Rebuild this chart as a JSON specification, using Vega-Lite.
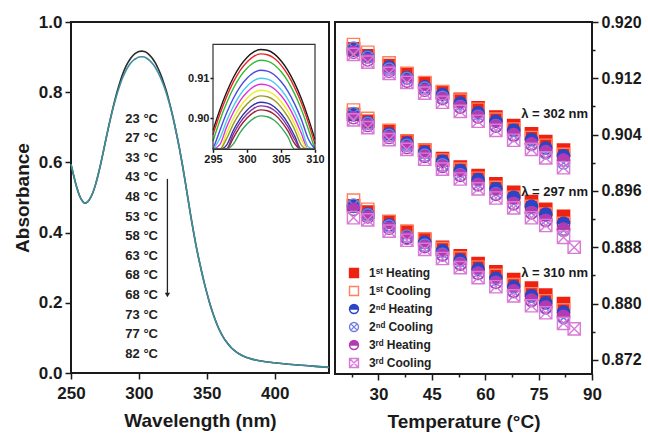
{
  "$schema": "https://vega.github.io/schema/vega-lite/v6.json",
  "padding": {"left": 12, "top": 12, "right": 2, "bottom": 2},
  "background": "white",
  "config": {
    "font": "Liberation Sans",
    "view": {"stroke": "#1a1a1a", "strokeWidth": 2},
    "axis": {"labelFont": "Liberation Sans", "labelFontWeight": "bold", "labelColor": "#1a1a1a", "titleFont": "Liberation Sans", "titleFontWeight": "bold", "titleColor": "#1a1a1a", "tickColor": "#1a1a1a", "tickWidth": 1.5, "domain": false, "grid": false, "labelFontSize": 17, "titleFontSize": 19, "labelPadding": 3, "labelOverlap": false, "labelFlush": false},
    "legend": {"labelFont": "Liberation Sans", "labelFontSize": 12, "labelFontWeight": "bold", "labelColor": "#222", "symbolSize": 80, "rowPadding": 2, "padding": 0, "labelOffset": 9, "symbolStrokeWidth": 1.4}
  },
  "datasets": {
    "spectrum": [
      {"w":250,"a1":0.595,"a2":0.595},{"w":252,"a1":0.562,"a2":0.562},{"w":254,"a1":0.532,"a2":0.532},{"w":256,"a1":0.508,"a2":0.508},
      {"w":258,"a1":0.492,"a2":0.492},{"w":260,"a1":0.484,"a2":0.484},{"w":262,"a1":0.487,"a2":0.487},{"w":264,"a1":0.497,"a2":0.497},
      {"w":266,"a1":0.513,"a2":0.513},{"w":268,"a1":0.536,"a2":0.536},{"w":270,"a1":0.565,"a2":0.565},{"w":272,"a1":0.598,"a2":0.598},
      {"w":274,"a1":0.634,"a2":0.634},{"w":276,"a1":0.671,"a2":0.671},{"w":278,"a1":0.707,"a2":0.707},{"w":280,"a1":0.741,"a2":0.739},
      {"w":282,"a1":0.773,"a2":0.769},{"w":284,"a1":0.802,"a2":0.796},{"w":286,"a1":0.828,"a2":0.820},{"w":288,"a1":0.851,"a2":0.841},
      {"w":290,"a1":0.870,"a2":0.858},{"w":292,"a1":0.885,"a2":0.872},{"w":294,"a1":0.897,"a2":0.883},{"w":296,"a1":0.906,"a2":0.891},
      {"w":298,"a1":0.912,"a2":0.896},{"w":300,"a1":0.916,"a2":0.900},{"w":302,"a1":0.917,"a2":0.901},{"w":304,"a1":0.916,"a2":0.900},
      {"w":306,"a1":0.912,"a2":0.896},{"w":308,"a1":0.905,"a2":0.890},{"w":310,"a1":0.896,"a2":0.882},{"w":312,"a1":0.884,"a2":0.871},
      {"w":314,"a1":0.869,"a2":0.857},{"w":316,"a1":0.851,"a2":0.841},{"w":318,"a1":0.830,"a2":0.822},{"w":320,"a1":0.806,"a2":0.800},
      {"w":322,"a1":0.778,"a2":0.774},{"w":324,"a1":0.747,"a2":0.745},{"w":326,"a1":0.713,"a2":0.713},{"w":328,"a1":0.676,"a2":0.676},
      {"w":330,"a1":0.637,"a2":0.637},{"w":332,"a1":0.594,"a2":0.594},{"w":334,"a1":0.548,"a2":0.548},{"w":336,"a1":0.500,"a2":0.500},
      {"w":338,"a1":0.452,"a2":0.452},{"w":340,"a1":0.407,"a2":0.407},{"w":342,"a1":0.365,"a2":0.365},{"w":344,"a1":0.327,"a2":0.327},
      {"w":346,"a1":0.292,"a2":0.292},{"w":348,"a1":0.259,"a2":0.259},{"w":350,"a1":0.229,"a2":0.229},{"w":352,"a1":0.201,"a2":0.201},
      {"w":354,"a1":0.176,"a2":0.176},{"w":356,"a1":0.154,"a2":0.154},{"w":358,"a1":0.134,"a2":0.134},{"w":360,"a1":0.117,"a2":0.117},
      {"w":362,"a1":0.103,"a2":0.103},{"w":364,"a1":0.091,"a2":0.091},{"w":366,"a1":0.081,"a2":0.081},{"w":368,"a1":0.072,"a2":0.072},
      {"w":370,"a1":0.065,"a2":0.065},{"w":374,"a1":0.054,"a2":0.054},{"w":378,"a1":0.046,"a2":0.046},{"w":382,"a1":0.041,"a2":0.041},
      {"w":386,"a1":0.037,"a2":0.037},{"w":390,"a1":0.034,"a2":0.034},{"w":400,"a1":0.029,"a2":0.029},{"w":410,"a1":0.025,"a2":0.025},
      {"w":420,"a1":0.022,"a2":0.022},{"w":430,"a1":0.019,"a2":0.019},{"w":440,"a1":0.016,"a2":0.016}
    ],
    "inset": [
      {"x":295,"k1":0.8970,"k2":0.8959,"k3":0.8943,"k4":0.8918,"k5":0.8898,"k6":0.8883,"k7":0.8868,"k8":0.8854,"k9":0.8838,"k10":0.8829,"k11":0.8819,"k12":0.8804},
      {"x":296,"k1":0.9021,"k2":0.9010,"k3":0.8994,"k4":0.8969,"k5":0.8949,"k6":0.8934,"k7":0.8919,"k8":0.8905,"k9":0.8889,"k10":0.8880,"k11":0.8870,"k12":0.8855},
      {"x":297,"k1":0.9065,"k2":0.9054,"k3":0.9038,"k4":0.9013,"k5":0.8993,"k6":0.8978,"k7":0.8963,"k8":0.8949,"k9":0.8933,"k10":0.8924,"k11":0.8914,"k12":0.8899},
      {"x":298,"k1":0.9102,"k2":0.9091,"k3":0.9075,"k4":0.9050,"k5":0.9030,"k6":0.9015,"k7":0.9000,"k8":0.8986,"k9":0.8970,"k10":0.8961,"k11":0.8951,"k12":0.8936},
      {"x":299,"k1":0.9131,"k2":0.9120,"k3":0.9104,"k4":0.9079,"k5":0.9059,"k6":0.9044,"k7":0.9029,"k8":0.9015,"k9":0.8999,"k10":0.8990,"k11":0.8980,"k12":0.8965},
      {"x":300,"k1":0.9152,"k2":0.9141,"k3":0.9125,"k4":0.9100,"k5":0.9080,"k6":0.9065,"k7":0.9050,"k8":0.9036,"k9":0.9020,"k10":0.9011,"k11":0.9001,"k12":0.8986},
      {"x":301,"k1":0.9166,"k2":0.9155,"k3":0.9139,"k4":0.9114,"k5":0.9094,"k6":0.9079,"k7":0.9064,"k8":0.9050,"k9":0.9034,"k10":0.9025,"k11":0.9015,"k12":0.9000},
      {"x":302,"k1":0.9172,"k2":0.9161,"k3":0.9145,"k4":0.9120,"k5":0.9100,"k6":0.9085,"k7":0.9070,"k8":0.9056,"k9":0.9040,"k10":0.9031,"k11":0.9021,"k12":0.9006},
      {"x":303,"k1":0.9170,"k2":0.9159,"k3":0.9143,"k4":0.9118,"k5":0.9098,"k6":0.9083,"k7":0.9068,"k8":0.9054,"k9":0.9038,"k10":0.9029,"k11":0.9019,"k12":0.9004},
      {"x":304,"k1":0.9161,"k2":0.9150,"k3":0.9134,"k4":0.9109,"k5":0.9089,"k6":0.9074,"k7":0.9059,"k8":0.9045,"k9":0.9029,"k10":0.9020,"k11":0.9010,"k12":0.8995},
      {"x":305,"k1":0.9144,"k2":0.9133,"k3":0.9117,"k4":0.9092,"k5":0.9072,"k6":0.9057,"k7":0.9042,"k8":0.9028,"k9":0.9012,"k10":0.9003,"k11":0.8993,"k12":0.8978},
      {"x":306,"k1":0.9120,"k2":0.9109,"k3":0.9093,"k4":0.9068,"k5":0.9048,"k6":0.9033,"k7":0.9018,"k8":0.9004,"k9":0.8988,"k10":0.8979,"k11":0.8969,"k12":0.8954},
      {"x":307,"k1":0.9088,"k2":0.9077,"k3":0.9061,"k4":0.9036,"k5":0.9016,"k6":0.9001,"k7":0.8986,"k8":0.8972,"k9":0.8956,"k10":0.8947,"k11":0.8937,"k12":0.8922},
      {"x":308,"k1":0.9049,"k2":0.9038,"k3":0.9022,"k4":0.8997,"k5":0.8977,"k6":0.8962,"k7":0.8947,"k8":0.8933,"k9":0.8917,"k10":0.8908,"k11":0.8898,"k12":0.8883},
      {"x":309,"k1":0.9001,"k2":0.8990,"k3":0.8974,"k4":0.8949,"k5":0.8929,"k6":0.8914,"k7":0.8899,"k8":0.8885,"k9":0.8869,"k10":0.8860,"k11":0.8850,"k12":0.8835},
      {"x":310,"k1":0.8947,"k2":0.8936,"k3":0.8920,"k4":0.8895,"k5":0.8875,"k6":0.8860,"k7":0.8845,"k8":0.8831,"k9":0.8815,"k10":0.8806,"k11":0.8796,"k12":0.8781}
    ],
    "temps": [
      {"g":"302","T":23,"h1":0.9162,"c1":0.9168,"h2":0.9160,"c2":0.9163,"h3":0.9157,"c3":0.9154},
      {"g":"302","T":27,"h1":0.9152,"c1":0.9157,"h2":0.9151,"c2":0.9150,"h3":0.9146,"c3":0.9143},
      {"g":"302","T":33,"h1":0.9138,"c1":0.9142,"h2":0.9136,"c2":0.9133,"h3":0.9130,"c3":0.9127},
      {"g":"302","T":38,"h1":0.9126,"c1":0.9127,"h2":0.9121,"c2":0.9120,"h3":0.9116,"c3":0.9114},
      {"g":"302","T":43,"h1":0.9113,"c1":0.9114,"h2":0.9108,"c2":0.9106,"h3":0.9103,"c3":0.9099},
      {"g":"302","T":48,"h1":0.9100,"c1":0.9101,"h2":0.9097,"c2":0.9093,"h3":0.9091,"c3":0.9086},
      {"g":"302","T":53,"h1":0.9090,"c1":0.9089,"h2":0.9085,"c2":0.9080,"h3":0.9079,"c3":0.9073},
      {"g":"302","T":58,"h1":0.9078,"c1":0.9076,"h2":0.9071,"c2":0.9066,"h3":0.9065,"c3":0.9059},
      {"g":"302","T":63,"h1":0.9065,"c1":0.9062,"h2":0.9059,"c2":0.9053,"h3":0.9052,"c3":0.9046},
      {"g":"302","T":68,"h1":0.9053,"c1":0.9048,"h2":0.9046,"c2":0.9039,"h3":0.9040,"c3":0.9032},
      {"g":"302","T":73,"h1":0.9041,"c1":0.9036,"h2":0.9033,"c2":0.9026,"h3":0.9027,"c3":0.9019},
      {"g":"302","T":77,"h1":0.9030,"c1":0.9025,"h2":0.9021,"c2":0.9014,"h3":0.9016,"c3":0.9007},
      {"g":"302","T":82,"h1":0.9018,"c1":0.9012,"h2":0.9010,"c2":0.9000,"h3":0.9004,"c3":0.8993},
      {"g":"297","T":23,"h1":0.9069,"c1":0.9075,"h2":0.9068,"c2":0.9070,"h3":0.9064,"c3":0.9061},
      {"g":"297","T":27,"h1":0.9059,"c1":0.9063,"h2":0.9057,"c2":0.9056,"h3":0.9053,"c3":0.9050},
      {"g":"297","T":33,"h1":0.9044,"c1":0.9046,"h2":0.9041,"c2":0.9039,"h3":0.9036,"c3":0.9033},
      {"g":"297","T":38,"h1":0.9031,"c1":0.9031,"h2":0.9028,"c2":0.9025,"h3":0.9022,"c3":0.9019},
      {"g":"297","T":43,"h1":0.9018,"c1":0.9018,"h2":0.9015,"c2":0.9011,"h3":0.9009,"c3":0.9005},
      {"g":"297","T":48,"h1":0.9006,"c1":0.9004,"h2":0.9002,"c2":0.8997,"h3":0.8995,"c3":0.8991},
      {"g":"297","T":53,"h1":0.8994,"c1":0.8991,"h2":0.8989,"c2":0.8983,"h3":0.8982,"c3":0.8977},
      {"g":"297","T":58,"h1":0.8982,"c1":0.8978,"h2":0.8976,"c2":0.8969,"h3":0.8969,"c3":0.8963},
      {"g":"297","T":63,"h1":0.8970,"c1":0.8965,"h2":0.8963,"c2":0.8956,"h3":0.8955,"c3":0.8950},
      {"g":"297","T":68,"h1":0.8958,"c1":0.8951,"h2":0.8951,"c2":0.8942,"h3":0.8942,"c3":0.8936},
      {"g":"297","T":73,"h1":0.8945,"c1":0.8938,"h2":0.8938,"c2":0.8929,"h3":0.8929,"c3":0.8922},
      {"g":"297","T":77,"h1":0.8934,"c1":0.8927,"h2":0.8927,"c2":0.8918,"h3":0.8918,"c3":0.8911},
      {"g":"297","T":82,"h1":0.8924,"c1":0.8914,"h2":0.8914,"c2":0.8904,"h3":0.8906,"c3":0.8894},
      {"g":"297","T":85,"c3":0.8880},
      {"g":"310","T":23,"h1":0.8939,"c1":0.8947,"h2":0.8938,"c2":0.8940,"h3":0.8934,"c3":0.8922},
      {"g":"310","T":27,"h1":0.8930,"c1":0.8934,"h2":0.8927,"c2":0.8926,"h3":0.8923,"c3":0.8919},
      {"g":"310","T":33,"h1":0.8916,"c1":0.8917,"h2":0.8912,"c2":0.8910,"h3":0.8907,"c3":0.8903},
      {"g":"310","T":38,"h1":0.8902,"c1":0.8903,"h2":0.8894,"c2":0.8896,"h3":0.8893,"c3":0.8890},
      {"g":"310","T":43,"h1":0.8891,"c1":0.8892,"h2":0.8887,"c2":0.8883,"h3":0.8881,"c3":0.8877},
      {"g":"310","T":48,"h1":0.8880,"c1":0.8878,"h2":0.8875,"c2":0.8870,"h3":0.8869,"c3":0.8864},
      {"g":"310","T":53,"h1":0.8868,"c1":0.8865,"h2":0.8862,"c2":0.8857,"h3":0.8856,"c3":0.8851},
      {"g":"310","T":58,"h1":0.8857,"c1":0.8852,"h2":0.8849,"c2":0.8843,"h3":0.8843,"c3":0.8837},
      {"g":"310","T":63,"h1":0.8845,"c1":0.8840,"h2":0.8836,"c2":0.8830,"h3":0.8830,"c3":0.8824},
      {"g":"310","T":68,"h1":0.8834,"c1":0.8827,"h2":0.8824,"c2":0.8817,"h3":0.8818,"c3":0.8811},
      {"g":"310","T":73,"h1":0.8822,"c1":0.8814,"h2":0.8811,"c2":0.8804,"h3":0.8805,"c3":0.8797},
      {"g":"310","T":77,"h1":0.8812,"c1":0.8804,"h2":0.8801,"c2":0.8794,"h3":0.8795,"c3":0.8787},
      {"g":"310","T":82,"h1":0.8800,"c1":0.8791,"h2":0.8788,"c2":0.8780,"h3":0.8782,"c3":0.8772},
      {"g":"310","T":85,"c3":0.8764}
    ],
    "lambda": [
      {"T": 88.9, "v": 0.9069, "label": "λ = 302 nm"},
      {"T": 88.9, "v": 0.8959, "label": "λ = 297 nm"},
      {"T": 88.9, "v": 0.8843, "label": "λ = 310 nm"}
    ]
  },
  "spacing": 0,
  "hconcat": [
    {
      "width": 258,
      "height": 351,
      "resolve": {"scale": {"x": "independent", "y": "independent", "color": "independent"}, "axis": {"x": "independent", "y": "independent"}},
      "layer": [
        {
          "layer": [
            {
              "data": {"name": "spectrum"},
              "transform": [{"fold": ["a1", "a2"], "as": ["s", "a"]}],
              "mark": {"type": "line", "strokeWidth": 1.6, "interpolate": "monotone"},
              "encoding": {
                "x": {"field": "w", "type": "quantitative", "scale": {"domain": [250, 440], "nice": false, "zero": false},
                  "axis": {"values": [250, 275, 300, 325, 350, 375, 400, 425], "format": "d", "labelExpr": "datum.value % 50 == 0 ? datum.label : ''", "tickSize": {"condition": {"test": "datum.value % 50 != 0", "value": 3}, "value": 6}, "title": "Wavelength  (nm)", "labelPadding": 6, "titlePadding": 10}},
                "y": {"field": "a", "type": "quantitative", "scale": {"domain": [0, 1], "nice": false, "zero": false},
                  "axis": {"values": [0, 0.1, 0.2, 0.3, 0.4, 0.5, 0.6, 0.7, 0.8, 0.9, 1.0], "format": ".1f", "labelExpr": "round(datum.value * 10) % 2 == 0 ? datum.label : ''", "tickSize": {"condition": {"test": "round(datum.value * 10) % 2 != 0", "value": 3}, "value": 6}, "title": "Absorbance", "titlePadding": 6}},
                "color": {"field": "s", "type": "nominal", "scale": {"domain": ["a1", "a2"], "range": ["#2b2b2b", "#3e8e9c"]}, "legend": null}
              }
            },
            {
              "data": {"values": [{}]},
              "mark": {"type": "text", "align": "left", "baseline": "top", "fontSize": 13, "fontWeight": "bold", "lineHeight": 19.6, "color": "#222"},
              "encoding": {
                "x": {"datum": 290},
                "y": {"datum": 0.742},
                "text": {"value": ["23 °C", "27 °C", "33 °C", "43 °C", "48 °C", "53 °C", "58 °C", "63 °C", "68 °C", "68 °C", "73 °C", "77 °C", "82 °C"]}
              }
            },
            {
              "data": {"values": [{}]},
              "mark": {"type": "rule", "strokeWidth": 1.3, "color": "#222"},
              "encoding": {"x": {"datum": 321}, "y": {"datum": 0.553}, "y2": {"datum": 0.225}}
            },
            {
              "data": {"values": [{}]},
              "mark": {"type": "point", "shape": "triangle-down", "filled": true, "size": 28, "color": "#222", "opacity": 1},
              "encoding": {"x": {"datum": 321}, "y": {"datum": 0.222}}
            }
          ]
        },
        {
          "layer": [
            {
              "data": {"name": "inset"},
              "transform": [{"fold": ["k1", "k2", "k3", "k4", "k5", "k6", "k7", "k8", "k9", "k10", "k11", "k12"], "as": ["c", "y"]}],
              "mark": {"type": "line", "strokeWidth": 1.4, "interpolate": "monotone"},
              "encoding": {
                "x": {"field": "x", "type": "quantitative", "scale": {"domain": [295, 310], "range": [142, 244], "nice": false, "zero": false},
                  "axis": {"orient": "bottom", "offset": -223.7, "values": [295, 300, 305, 310], "format": "d", "tickSize": 3, "labelFontSize": 11, "labelPadding": 1, "title": null}},
                "y": {"field": "y", "type": "quantitative", "scale": {"domain": [0.89225, 0.9185], "range": [127.3, 22.3], "nice": false, "zero": false, "clamp": true},
                  "axis": {"orient": "left", "offset": -142, "values": [0.90, 0.91], "format": ".2f", "tickSize": 3, "labelFontSize": 11, "labelPadding": 1, "title": null}},
                "color": {"field": "c", "type": "nominal", "scale": {"domain": ["k1", "k2", "k3", "k4", "k5", "k6", "k7", "k8", "k9", "k10", "k11", "k12"], "range": ["#1a1a1a", "#ee2222", "#33bb33", "#4a4ae0", "#44ccee", "#dd33dd", "#eeee22", "#999922", "#3333aa", "#8833aa", "#992233", "#33aa55"]}, "legend": null}
              }
            },
            {
              "data": {"values": [{}]},
              "mark": {"type": "rect", "fill": "transparent", "stroke": "#333", "strokeWidth": 1.2},
              "encoding": {"x": {"datum": 295}, "x2": {"datum": 310}, "y": {"datum": 0.89225}, "y2": {"datum": 0.9185}}
            }
          ]
        }
      ]
    },
    {
      "width": 257,
      "height": 352,
      "encoding": {
        "x": {"field": "T", "type": "quantitative", "scale": {"domain": [17.8, 90], "nice": false, "zero": false},
          "axis": {"values": [22.5, 30, 37.5, 45, 52.5, 60, 67.5, 75, 82.5, 90], "format": "d", "labelExpr": "datum.value % 15 == 0 ? datum.label : ''", "tickSize": {"condition": {"test": "datum.value % 15 != 0", "value": 3}, "value": 6}, "title": "Temperature  (°C)", "labelPadding": 6, "titlePadding": 10}},
        "y": {"field": "v", "type": "quantitative", "scale": {"domain": [0.87, 0.92], "nice": false, "zero": false},
          "axis": {"orient": "right", "values": [0.872, 0.876, 0.880, 0.884, 0.888, 0.892, 0.896, 0.900, 0.904, 0.908, 0.912, 0.916, 0.920], "format": ".3f", "labelExpr": "round(datum.value * 1000) % 8 == 0 ? datum.label : ''", "tickSize": {"condition": {"test": "round(datum.value * 1000) % 8 != 0", "value": 3}, "value": 6}, "labelFontSize": 16, "title": null}}
      },
      "layer": [
        {
          "data": {"name": "temps"},
          "transform": [{"fold": ["h1", "c1", "h2", "c2", "h3", "c3"], "as": ["s", "v"]}, {"filter": "isValid(datum.v)"}],
          "mark": {"type": "point", "size": 150, "strokeWidth": 1.4, "opacity": 1},
          "encoding": {
            "shape": {"field": "s", "type": "nominal",
              "scale": {"domain": ["h1", "c1", "h2", "c2", "h3", "c3"], "range": ["square", "square", "M-1,0A1,1,0,0,1,1,0ZM1,0A1,1,0,0,1,-1,0A1,1,0,0,0,1,0", "M-1,0A1,1,0,1,1,1,0A1,1,0,1,1,-1,0M-0.7,-0.7L0.7,0.7M-0.7,0.7L0.7,-0.7", "M-1,0A1,1,0,0,1,1,0ZM1,0A1,1,0,0,1,-1,0A1,1,0,0,0,1,0", "M-1,-1L1,-1L1,1L-1,1ZM-1,-1L1,1M-1,1L1,-1"]},
              "legend": {"orient": "none", "legendX": 277, "legendY": 245, "title": null, "labelExpr": "datum.label == 'h1' ? '1ˢᵗ Heating' : datum.label == 'c1' ? '1ˢᵗ Cooling' : datum.label == 'h2' ? '2ⁿᵈ Heating' : datum.label == 'c2' ? '2ⁿᵈ Cooling' : datum.label == 'h3' ? '3ʳᵈ Heating' : '3ʳᵈ Cooling'"}},
            "fill": {"field": "s", "type": "nominal",
              "scale": {"domain": ["h1", "c1", "h2", "c2", "h3", "c3"], "range": ["#ee2211", "transparent", "#2a45c5", "transparent", "#b23ab2", "transparent"]},
              "legend": {"orient": "none", "legendX": 277, "legendY": 245, "title": null, "labelExpr": "datum.label == 'h1' ? '1ˢᵗ Heating' : datum.label == 'c1' ? '1ˢᵗ Cooling' : datum.label == 'h2' ? '2ⁿᵈ Heating' : datum.label == 'c2' ? '2ⁿᵈ Cooling' : datum.label == 'h3' ? '3ʳᵈ Heating' : '3ʳᵈ Cooling'"}},
            "stroke": {"field": "s", "type": "nominal",
              "scale": {"domain": ["h1", "c1", "h2", "c2", "h3", "c3"], "range": ["#ee2211", "#ff7f5e", "#2a45c5", "#7080e0", "#b23ab2", "#d77ad7"]},
              "legend": {"orient": "none", "legendX": 277, "legendY": 245, "title": null, "labelExpr": "datum.label == 'h1' ? '1ˢᵗ Heating' : datum.label == 'c1' ? '1ˢᵗ Cooling' : datum.label == 'h2' ? '2ⁿᵈ Heating' : datum.label == 'c2' ? '2ⁿᵈ Cooling' : datum.label == 'h3' ? '3ʳᵈ Heating' : '3ʳᵈ Cooling'"}}
          }
        },
        {
          "data": {"name": "lambda"},
          "mark": {"type": "text", "align": "right", "baseline": "middle", "fontSize": 13, "fontWeight": "bold", "color": "#1a1a1a"},
          "encoding": {"text": {"field": "label", "type": "nominal"}}
        }
      ]
    }
  ]
}
